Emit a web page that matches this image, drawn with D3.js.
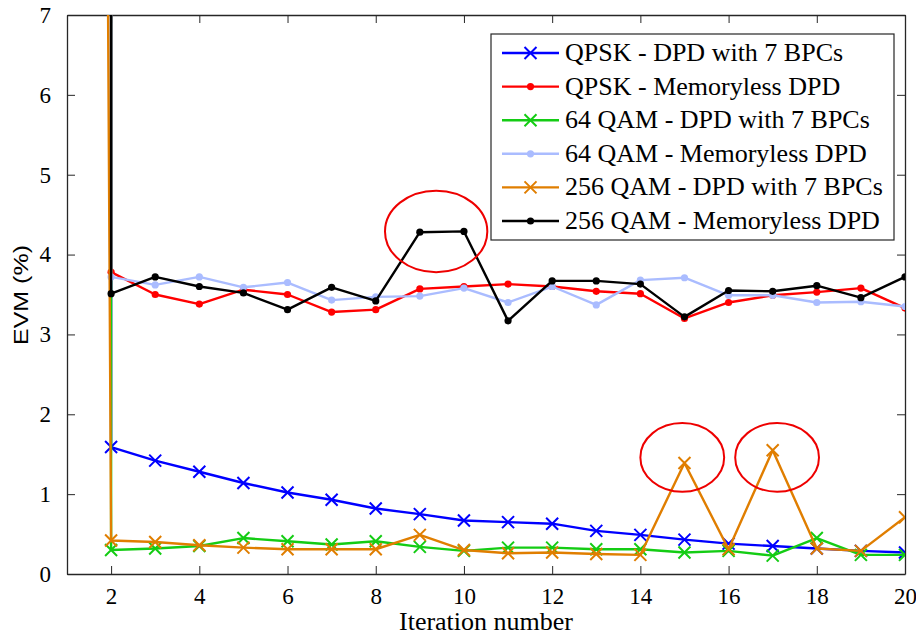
<!DOCTYPE html>
<html><head><meta charset="utf-8">
<script src="https://cdn.jsdelivr.net/npm/d3@7"></script>
<style>body{margin:0;background:#fff}svg{display:block}</style>
</head><body>
<svg id="c" width="916" height="637"></svg>
<script>
const iterations = [2,3,4,5,6,7,8,9,10,11,12,13,14,15,16,17,18,19,20];
const seriesNames = ["QPSK - DPD with 7 BPCs","QPSK - Memoryless DPD","64 QAM - DPD with 7 BPCs","64 QAM - Memoryless DPD","256 QAM - DPD with 7 BPCs","256 QAM - Memoryless DPD"];
// first-iteration values (off scale)
const firstIter = [2, 2, 2, 2, 1.88, 2];
const firstEvm  = [12, 12, 12, 12, 12, 12];
const qpskDpd   = [1.59,1.42,1.28,1.14,1.02,0.93,0.82,0.75,0.67,0.65,0.63,0.54,0.49,0.43,0.38,0.35,0.32,0.29,0.27];
const qpskMem   = [3.78,3.50,3.38,3.56,3.50,3.28,3.31,3.57,3.60,3.63,3.60,3.54,3.51,3.20,3.40,3.49,3.53,3.58,3.33];
const qam64Dpd  = [0.30,0.32,0.35,0.45,0.41,0.37,0.41,0.34,0.29,0.33,0.33,0.31,0.31,0.27,0.29,0.23,0.45,0.24,0.24];
const qam64Mem  = [3.72,3.62,3.72,3.59,3.65,3.43,3.47,3.48,3.58,3.40,3.60,3.37,3.68,3.71,3.49,3.49,3.40,3.41,3.35];
const qam256Dpd = [0.42,0.40,0.36,0.33,0.31,0.31,0.31,0.49,0.30,0.26,0.27,0.25,0.24,1.39,0.31,1.55,0.32,0.29,0.71];
const qam256Mem = [3.51,3.72,3.60,3.52,3.31,3.59,3.42,4.28,4.29,3.17,3.67,3.67,3.63,3.22,3.55,3.54,3.61,3.46,3.72];
const seriesValues = [qpskDpd,qpskMem,qam64Dpd,qam64Mem,qam256Dpd,qam256Mem];
const colors = ["#0000ff","#ff0000","#14cc14","#aabcff","#e07e00","#000000"];
const markers = ["x","dot","x","dot","x","dot"];
const xTicks = [2,4,6,8,10,12,14,16,18,20];
const yTicks = [0,1,2,3,4,5,6,7];
// highlight ellipses: center iteration, center EVM, half-width (iterations), half-height (EVM)
const ellCx = [9.37, 14.95, 17.1];
const ellCy = [4.29, 1.46, 1.46];
const ellRx = [1.16, 0.95, 0.95];
const ellRy = [0.51, 0.43, 0.43];

const L=67, R=905, T=15, B=574;
const x = d3.scaleLinear().domain([1,20]).range([L,R]);
const y = d3.scaleLinear().domain([0,7]).range([B,T]);
const svg = d3.select("#c");
const axisColor = "#262626";
const serif = "'Liberation Serif','Times New Roman',serif";

svg.append("defs").append("clipPath").attr("id","clip")
  .append("rect").attr("x",L).attr("y",T).attr("width",R-L).attr("height",B-T);

// axes
const ax = (g)=>g.selectAll("path").attr("stroke",axisColor).attr("stroke-width",1.3);
svg.append("g").attr("transform",`translate(0,${B})`)
  .call(d3.axisBottom(x).tickValues(xTicks).tickFormat(d3.format("d")).tickSizeInner(-8).tickSizeOuter(0).tickPadding(14))
  .call(g=>{ax(g);g.selectAll("line").attr("stroke",axisColor);g.selectAll("text").attr("font-family",serif).attr("font-size",23).attr("fill","#000");});
svg.append("g").attr("transform",`translate(0,${T})`)
  .call(d3.axisTop(x).tickValues(xTicks).tickSizeInner(-8).tickSizeOuter(0).tickFormat(""))
  .call(g=>{ax(g);g.selectAll("line").attr("stroke",axisColor);});
svg.append("g").attr("transform",`translate(${L},0)`)
  .call(d3.axisLeft(y).tickValues(yTicks).tickFormat(d3.format("d")).tickSizeInner(-8).tickSizeOuter(0).tickPadding(16))
  .call(g=>{ax(g);g.selectAll("line").attr("stroke",axisColor);g.selectAll("text").attr("font-family",serif).attr("font-size",23).attr("fill","#000");});
svg.append("g").attr("transform",`translate(${R},0)`)
  .call(d3.axisRight(y).tickValues(yTicks).tickSizeInner(-8).tickSizeOuter(0).tickFormat(""))
  .call(g=>{ax(g);g.selectAll("line").attr("stroke",axisColor);});

// labels
svg.append("text").attr("x",(L+R)/2).attr("y",630).attr("text-anchor","middle")
  .attr("font-family",serif).attr("font-size",26).text("Iteration number");
svg.append("text").attr("transform","translate(28,295) rotate(-90)").attr("text-anchor","middle")
  .attr("font-family","'Liberation Sans',Arial,sans-serif").attr("font-size",20)
  .attr("textLength",100).attr("lengthAdjust","spacingAndGlyphs").text("EVM (%)");

// series
const plot = svg.append("g").attr("clip-path","url(#clip)");
const line = d3.line().x(d=>x(d[0])).y(d=>y(d[1]));
function drawMarker(g, type, color, px, py){
  if(type==="x"){
    const s=6;
    g.append("path").attr("d",`M${px-s},${py-s}L${px+s},${py+s}M${px-s},${py+s}L${px+s},${py-s}`)
      .attr("stroke",color).attr("stroke-width",2).attr("fill","none");
  } else {
    g.append("circle").attr("cx",px).attr("cy",py).attr("r",3.6).attr("fill",color);
  }
}
seriesValues.forEach((vals,i)=>{
  const pts = [[firstIter[i],firstEvm[i]]].concat(iterations.map((it,j)=>[it,vals[j]]));
  const g = plot.append("g");
  g.append("path").datum(pts).attr("d",line).attr("fill","none")
    .attr("stroke",colors[i]).attr("stroke-width",2.4).attr("stroke-linejoin","round");
  iterations.forEach((it,j)=>drawMarker(g,markers[i],colors[i],x(it),y(vals[j])));
});

// highlight ellipses
ellCx.forEach((cx,i)=>{
  svg.append("ellipse").attr("cx",x(cx)).attr("cy",y(ellCy[i]))
    .attr("rx",x(cx+ellRx[i])-x(cx)).attr("ry",y(0)-y(ellRy[i]))
    .attr("fill","none").attr("stroke","#ee0000").attr("stroke-width",2);
});

// legend
const lg = svg.append("g");
const lgX=491, lgY=34, lgW=403, lgH=206, rowH=33.6;
lg.append("rect").attr("x",lgX).attr("y",lgY).attr("width",lgW).attr("height",lgH)
  .attr("fill","#fff").attr("stroke",axisColor).attr("stroke-width",1.2);
seriesNames.forEach((name,i)=>{
  const cy = lgY+19+i*rowH;
  lg.append("line").attr("x1",502).attr("x2",559).attr("y1",cy).attr("y2",cy)
    .attr("stroke",colors[i]).attr("stroke-width",2.4);
  drawMarker(lg,markers[i],colors[i],530.5,cy);
  lg.append("text").attr("x",565).attr("y",cy+8).attr("font-family",serif)
    .attr("font-size",26).text(name);
});
</script>
</body></html>
